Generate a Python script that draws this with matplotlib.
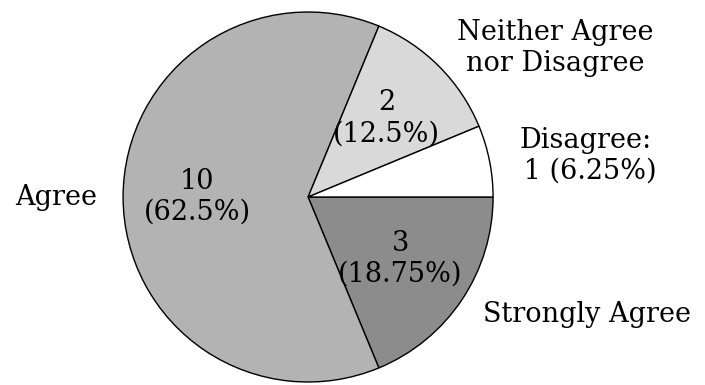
import matplotlib
matplotlib.use("Agg")
import matplotlib.pyplot as plt

labels = ["Strongly Agree", "Agree", "Neither Agree\nnor Disagree", "Disagree:\n 1 (6.25%)"]
counts = [3, 10, 2, 1]
colors = ["#8c8c8c", "#b3b3b3", "#d9d9d9", "#ffffff"]
total = sum(counts)

plt.rcParams["font.family"] = "DejaVu Serif"

fig = plt.figure(figsize=(7.05, 3.85), dpi=100)
ax = fig.add_axes([0.1745, 0.0078, 0.525, 0.961])


def pct(p):
    n = int(round(p * total / 100))
    if n == 1:
        return ""
    return "{}\n({:g}%)".format(n, p)


wedges, texts, autotexts = ax.pie(
    counts, labels=labels, colors=colors, autopct=pct,
    startangle=0, counterclock=False, labeldistance=1.14, pctdistance=0.6,
    wedgeprops=dict(edgecolor="black", linewidth=1),
    textprops=dict(fontsize=19.5))
for t in texts:
    t.set_multialignment("center")
ax.set_aspect("equal")
ax.set_xlim(-1, 1)
ax.set_ylim(-1, 1)
fig.savefig("out.png")
